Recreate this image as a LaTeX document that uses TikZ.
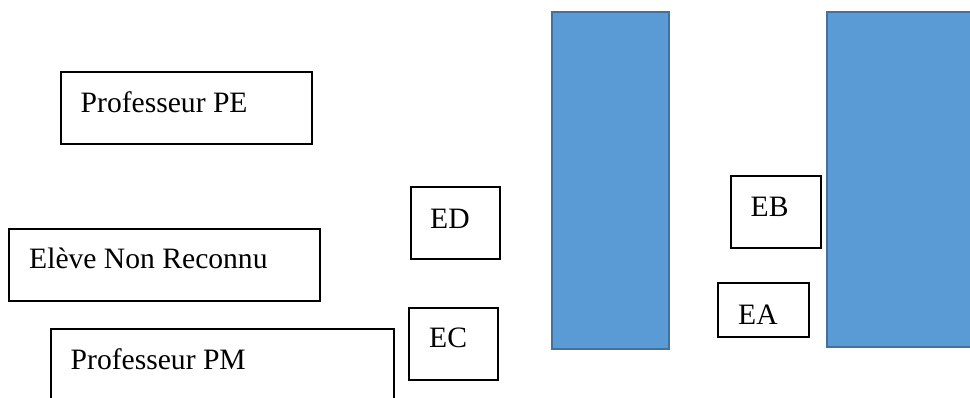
\documentclass[tikz,border=0pt]{standalone}
\usepackage{fontspec}
\setmainfont{Liberation Serif}
\definecolor{barfill}{HTML}{5B9BD5}
\definecolor{barline}{HTML}{41719C}
\begin{document}
\begin{tikzpicture}[x=1pt,y=-1pt,
  box/.style={draw=black,line width=1.2pt,fill=white},
  bar/.style={draw=barline,line width=1.2pt,fill=barfill},
  lbl/.style={anchor=base west,inner sep=0pt,font=\fontsize{29.6}{35}\selectfont}]
\useasboundingbox (0,0) rectangle (970,398);
\clip (0,0) rectangle (970,398);
% blue bars
\draw[bar] (552,12) rectangle (669,349);
\draw[bar] (827,12) rectangle (1000,347);
% boxes
\draw[box] (61,72) rectangle (312,144) coordinate (pe);
\draw[box] (9,229) rectangle (320,301) coordinate (enr);
\draw[box] (51,329) rectangle (394,420) coordinate (pm);
\draw[box] (411,187) rectangle (500,259) coordinate (ed);
\draw[box] (409,308) rectangle (498,380) coordinate (ec);
\draw[box] (731,176) rectangle (821,248) coordinate (eb);
\draw[box] (718,283) rectangle (809,337) coordinate (ea);
% labels
\node[lbl] (tpe) at (80.5,113) {Professeur PE};
\node[lbl] (tenr) at (29,269) {Elève Non Reconnu};
\node[lbl] (tpm) at (70.5,370) {Professeur PM};
\node[lbl] (ted) at (430,228.5) {ED};
\node[lbl] (tec) at (429,348) {EC};
\node[lbl] (teb) at (750.5,216.5) {EB};
\node[lbl] (tea) at (738,324) {EA};
\end{tikzpicture}
\end{document}
